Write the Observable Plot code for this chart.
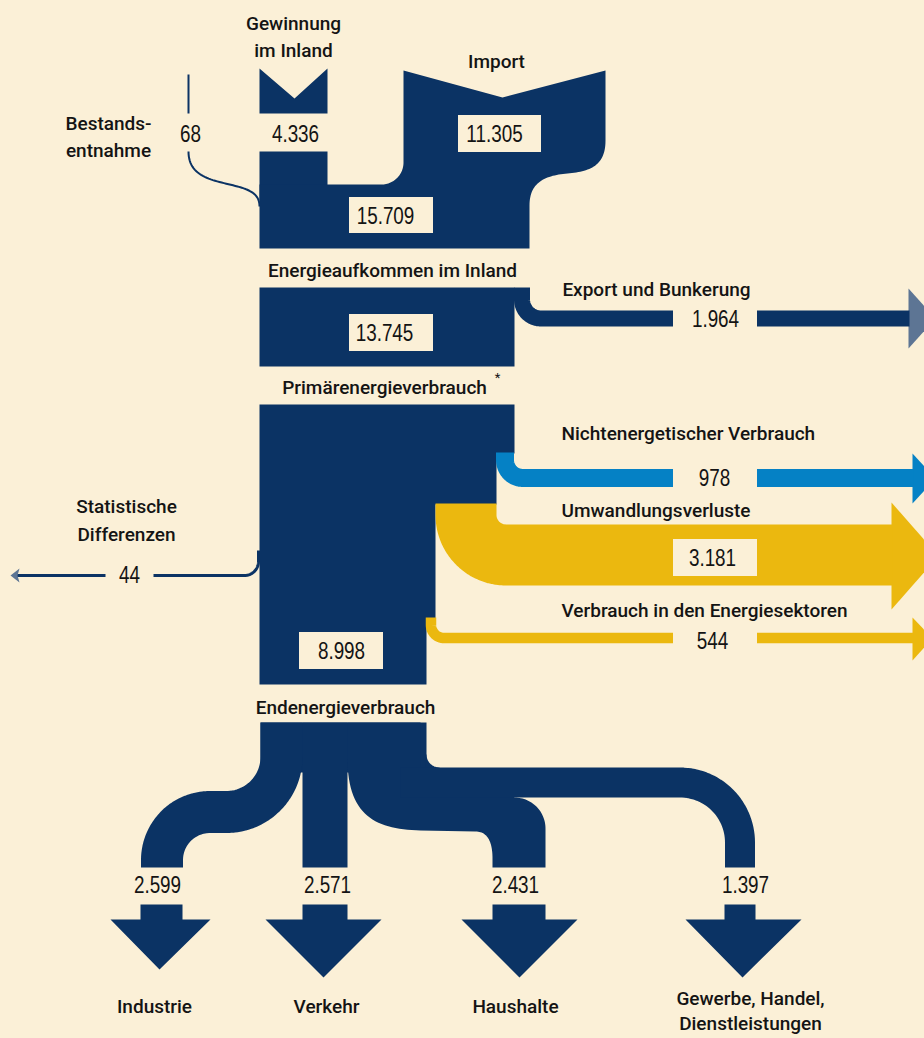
<!DOCTYPE html>
<html><head><meta charset="utf-8">
<script src="https://cdn.jsdelivr.net/npm/d3@7"></script>
<script src="https://cdn.jsdelivr.net/npm/@observablehq/plot@0.6"></script>
<style>html,body{margin:0;padding:0;background:#fbf0d7;overflow:hidden}</style>
</head><body><div id="chart"></div>
<script>
// ---------------- data ----------------
const sourceLabels = ["Bestands-\nentnahme", "Gewinnung\nim Inland", "Import"];
const sourceValues = [68, 4336, 11305];
const stageLabels = ["Energieaufkommen im Inland", "Primärenergieverbrauch", "Endenergieverbrauch"];
const stageValues = [15709, 13745, 8998];
const outflowLabels = ["Export und Bunkerung", "Nichtenergetischer Verbrauch", "Umwandlungsverluste", "Verbrauch in den Energiesektoren", "Statistische\nDifferenzen"];
const outflowValues = [1964, 978, 3181, 544, 44];
const sectorLabels = ["Industrie", "Verkehr", "Haushalte", "Gewerbe, Handel,\nDienstleistungen"];
const sectorValues = [2599, 2571, 2431, 1397];

// ---------------- style ----------------
const C = {bg: "#fbf0d7", navy: "#0b3364", blue: "#0581c5", yellow: "#ebb80f", grey: "#5d7594", ink: "#141414"};
const labelFont = "Roboto, 'Open Sans', sans-serif";
const numFont = "'Liberation Sans', Arial, sans-serif";
const fmt = d3.formatLocale({decimal: ",", thousands: ".", grouping: [3], currency: ["", ""]}).format(",d");

// ---------------- geometry helpers (layout, not data) ----------------
function path() {
  const pts = [];
  const api = {
    M(x, y) { pts.push([x, y]); return api; },
    L(x, y) { pts.push([x, y]); return api; },
    C(x1, y1, x2, y2, x, y) {
      const [x0, y0] = pts[pts.length - 1];
      for (let i = 1; i <= 30; i++) {
        const t = i / 30, m = 1 - t;
        pts.push([m*m*m*x0 + 3*m*m*t*x1 + 3*m*t*t*x2 + t*t*t*x, m*m*m*y0 + 3*m*m*t*y1 + 3*m*t*t*y2 + t*t*t*y]);
      }
      return api;
    },
    A(cx, cy, r, a0, a1) {
      for (let i = 0; i <= 30; i++) {
        const a = (a0 + (a1 - a0) * i / 30) * Math.PI / 180;
        pts.push([cx + r * Math.cos(a), cy + r * Math.sin(a)]);
      }
      return api;
    },
    pts
  };
  return api;
}
// rounded orthogonal polyline (centre line of a band)
function rounded(points, radii) {
  const out = [points[0]];
  for (let i = 1; i < points.length - 1; i++) {
    const [px, py] = points[i], r = radii[i - 1];
    const [ax, ay] = points[i - 1], [bx, by] = points[i + 1];
    let d1 = [px - ax, py - ay], d2 = [bx - px, by - py];
    const l1 = Math.hypot(...d1), l2 = Math.hypot(...d2);
    d1 = [d1[0] / l1, d1[1] / l1]; d2 = [d2[0] / l2, d2[1] / l2];
    const cx = px - d1[0] * r + d2[0] * r, cy = py - d1[1] * r + d2[1] * r;
    for (let k = 0; k <= 30; k++) {
      const th = (k / 30) * Math.PI / 2, c = Math.cos(th), s = Math.sin(th);
      out.push([cx - d2[0] * r * c + d1[0] * r * s, cy - d2[1] * r * c + d1[1] * r * s]);
    }
  }
  out.push(points[points.length - 1]);
  return out;
}
const rectPts = (x1, y1, x2, y2) => [[x1, y1], [x2, y1], [x2, y2], [x1, y2]];

// ---------------- layout ----------------
const fills = [];   // {pts, fill}
const bands = [];   // {pts, color, width}
const thin = [];    // {pts, color, width}

// sources
fills.push({fill: C.navy, pts: path().M(259, 68).L(294, 98).L(327, 68).L(327, 113).L(259, 113).pts});
fills.push({fill: C.navy, pts: rectPts(259, 151, 327, 200)});
fills.push({fill: C.navy, pts: path().M(403, 70).L(502, 97).L(605, 70).L(605, 140)
  .C(605, 165, 590, 171, 567, 173).C(544, 175, 529, 182, 529, 205)
  .L(529, 248).L(259, 248).L(259, 184).L(381, 184).A(381, 162, 22, 90, 0).L(403, 70).pts});
thin.push({color: C.navy, width: 2, pts: [[188, 74], [188, 113]]});
thin.push({color: C.navy, width: 2, pts: path().M(188, 151).C(188, 178, 215, 180, 237, 186).C(252, 190, 259, 195, 259, 206).pts});

// Energieaufkommen -> Primärenergieverbrauch
fills.push({fill: C.navy, pts: rectPts(259, 287, 514, 366)});
bands.push({color: C.navy, width: 16, pts: rounded([[521.5, 287], [521.5, 318], [909, 318]], [19])});
fills.push({fill: C.grey, pts: [[908, 288], [935, 318], [908, 348]]});

// Primärenergieverbrauch block
fills.push({fill: C.navy, pts: [[259, 404], [514, 404], [514, 453], [496, 453], [496, 504], [435, 504], [435, 618], [426, 618], [426, 684], [259, 684]]});
bands.push({color: C.blue, width: 18, pts: rounded([[504.5, 452], [504.5, 477.5], [913, 477.5]], [18])});
fills.push({fill: C.blue, pts: [[912, 453], [935, 478], [912, 503]]});
bands.push({color: C.yellow, width: 61, pts: rounded([[465.5, 503], [465.5, 554.5], [892, 554.5]], [40])});
fills.push({fill: C.yellow, pts: [[891, 502], [938, 555.5], [891, 609]]});
bands.push({color: C.yellow, width: 10.5, pts: rounded([[430.5, 617], [430.5, 637.5], [913, 637.5]], [13])});
fills.push({fill: C.yellow, pts: [[912, 617], [932, 638], [912, 660]]});
thin.push({color: C.navy, width: 3, pts: rounded([[258, 550], [258, 575], [153, 575]], [14])});
thin.push({color: C.navy, width: 3, pts: [[105, 575], [16, 575]]});
fills.push({fill: C.grey, pts: [[10, 575], [19, 568], [17, 575], [19, 582]]});

// Endenergieverbrauch split
fills.push({fill: C.navy, pts: rectPts(260, 722, 426, 772)});
bands.push({color: C.navy, width: 42, pts: rounded([[281, 722], [281, 811.5], [161.5, 811.5], [161.5, 867]], [55, 48])});
fills.push({fill: C.navy, pts: rectPts(302, 722, 347, 867)});
fills.push({fill: C.navy, pts: path().M(347, 722).L(347, 758).C(347, 815, 375, 829, 420, 830).L(475, 831)
  .C(489, 831, 492, 845, 492, 858).L(492, 867).L(545, 867).L(545, 828).A(514, 828, 31, 0, -90)
  .L(505, 785).L(420, 785).L(420, 722).pts});
bands.push({color: C.navy, width: 30, pts: rounded([[400, 782], [739.5, 782], [739.5, 867]], [60])});
fills.push({fill: C.navy, pts: path().M(425, 754).A(439, 754, 13, 180, 90).L(439, 775).L(425, 775).pts});

// sector arrows: [stem x1, stem x2, head x1, head x2, tip x, tip y]
const arrowLayout = [[140, 182, 110, 210, 159, 969], [302, 347, 265, 381, 323, 977], [492, 545, 461, 577, 519, 977], [724, 755, 685, 801, 742, 977]];
arrowLayout.forEach(([s1, s2, h1, h2, tx, ty]) => {
  fills.push({fill: C.navy, pts: [[s1, 904], [s2, 904], [s2, 919], [h2, 919], [tx, ty], [h1, 919], [s1, 919]]});
});

// label gaps / boxes (background colour)
const boxes = [
  {x1: 673, x2: 757, y1: 305, y2: 332},
  {x1: 673, x2: 757, y1: 465, y2: 491},
  {x1: 673, x2: 757, y1: 628, y2: 648},
  {x1: 458, x2: 541, y1: 115, y2: 152},
  {x1: 349, x2: 433, y1: 197, y2: 233},
  {x1: 349, x2: 433, y1: 314, y2: 351},
  {x1: 299, x2: 383, y1: 632, y2: 669},
  {x1: 673, x2: 757, y1: 539, y2: 576}
];

// texts
const numbers = [
  {v: sourceValues[0], x: 190, y: 134}, {v: sourceValues[1], x: 295, y: 134}, {v: sourceValues[2], x: 494, y: 134},
  {v: stageValues[0], x: 385, y: 216}, {v: stageValues[1], x: 384, y: 333}, {v: stageValues[2], x: 341, y: 651},
  {v: outflowValues[0], x: 715, y: 319}, {v: outflowValues[1], x: 714, y: 478}, {v: outflowValues[2], x: 712, y: 558},
  {v: outflowValues[3], x: 712, y: 641}, {v: outflowValues[4], x: 129, y: 575},
  ...sectorValues.map((v, i) => ({v, x: [157, 327, 515, 745][i], y: 885}))
];
const labelsMid = [
  {t: sourceLabels[0], x: 108, y: 134}, {t: sourceLabels[1], x: 293, y: 34}, {t: sourceLabels[2], x: 496, y: 59},
  {t: stageLabels[0], x: 392, y: 268}, {t: stageLabels[1], x: 384, y: 385}, {t: stageLabels[2], x: 345, y: 705},
  {t: outflowLabels[0], x: 656, y: 287}, {t: outflowLabels[4], x: 126, y: 517.5},
  {t: sectorLabels[0], x: 154, y: 1004}, {t: sectorLabels[1], x: 326, y: 1004}, {t: sectorLabels[2], x: 515, y: 1004}
];
const labelsTight = [{t: sectorLabels[3], x: 750, y: 1009}];
const labelsStart = [
  {t: outflowLabels[1], x: 561, y: 433}, {t: outflowLabels[2], x: 561, y: 510}, {t: outflowLabels[3], x: 561, y: 610}
];

const X = d => d[0], Y = d => d[1];
const chart = Plot.plot({
  width: 924, height: 1038, margin: 0,
  x: {domain: [0, 924], range: [0, 924], axis: null},
  y: {domain: [0, 1038], range: [0, 1038], axis: null},
  style: {background: C.bg},
  marks: [
    ...thin.map(s => Plot.line(s.pts, {x: X, y: Y, stroke: s.color, strokeWidth: s.width, strokeLinecap: "butt", strokeLinejoin: "round"})),
    ...fills.map(s => Plot.line(s.pts, {x: X, y: Y, fill: s.fill, stroke: "none", curve: "linear-closed"})),
    ...bands.map(s => Plot.line(s.pts, {x: X, y: Y, stroke: s.color, strokeWidth: s.width, strokeLinecap: "butt", strokeLinejoin: "round"})),
    Plot.rect(boxes, {x1: "x1", x2: "x2", y1: "y1", y2: "y2", fill: C.bg}),
    Plot.text(numbers, {x: "x", y: "y", text: d => fmt(d.v), fontFamily: numFont, fontSize: 23, fill: C.ink}),
    Plot.text(labelsMid, {x: "x", y: "y", text: "t", fontFamily: labelFont, fontWeight: 500, fontSize: 19, lineHeight: 1.45, fill: C.ink}),
    Plot.text(labelsTight, {x: "x", y: "y", text: "t", fontFamily: labelFont, fontWeight: 500, fontSize: 19, lineHeight: 1.3, fill: C.ink}),
    Plot.text(labelsStart, {x: "x", y: "y", text: "t", textAnchor: "start", fontFamily: labelFont, fontWeight: 500, fontSize: 19, fill: C.ink}),
    Plot.text(["*"], {x: () => 497, y: () => 377, text: d => d, fontFamily: labelFont, fontSize: 13, fill: C.ink})
  ]
});
document.getElementById("chart").appendChild(chart);
// condense the number glyphs like the original's narrow figures
chart.querySelectorAll("text").forEach(t => {
  if (/^[\d.]+$/.test(t.textContent)) {
    const w = t.getComputedTextLength();
    if (w > 0) { t.setAttribute("textLength", (w * 0.82).toFixed(1)); t.setAttribute("lengthAdjust", "spacingAndGlyphs"); }
  }
});
</script>
</body></html>
